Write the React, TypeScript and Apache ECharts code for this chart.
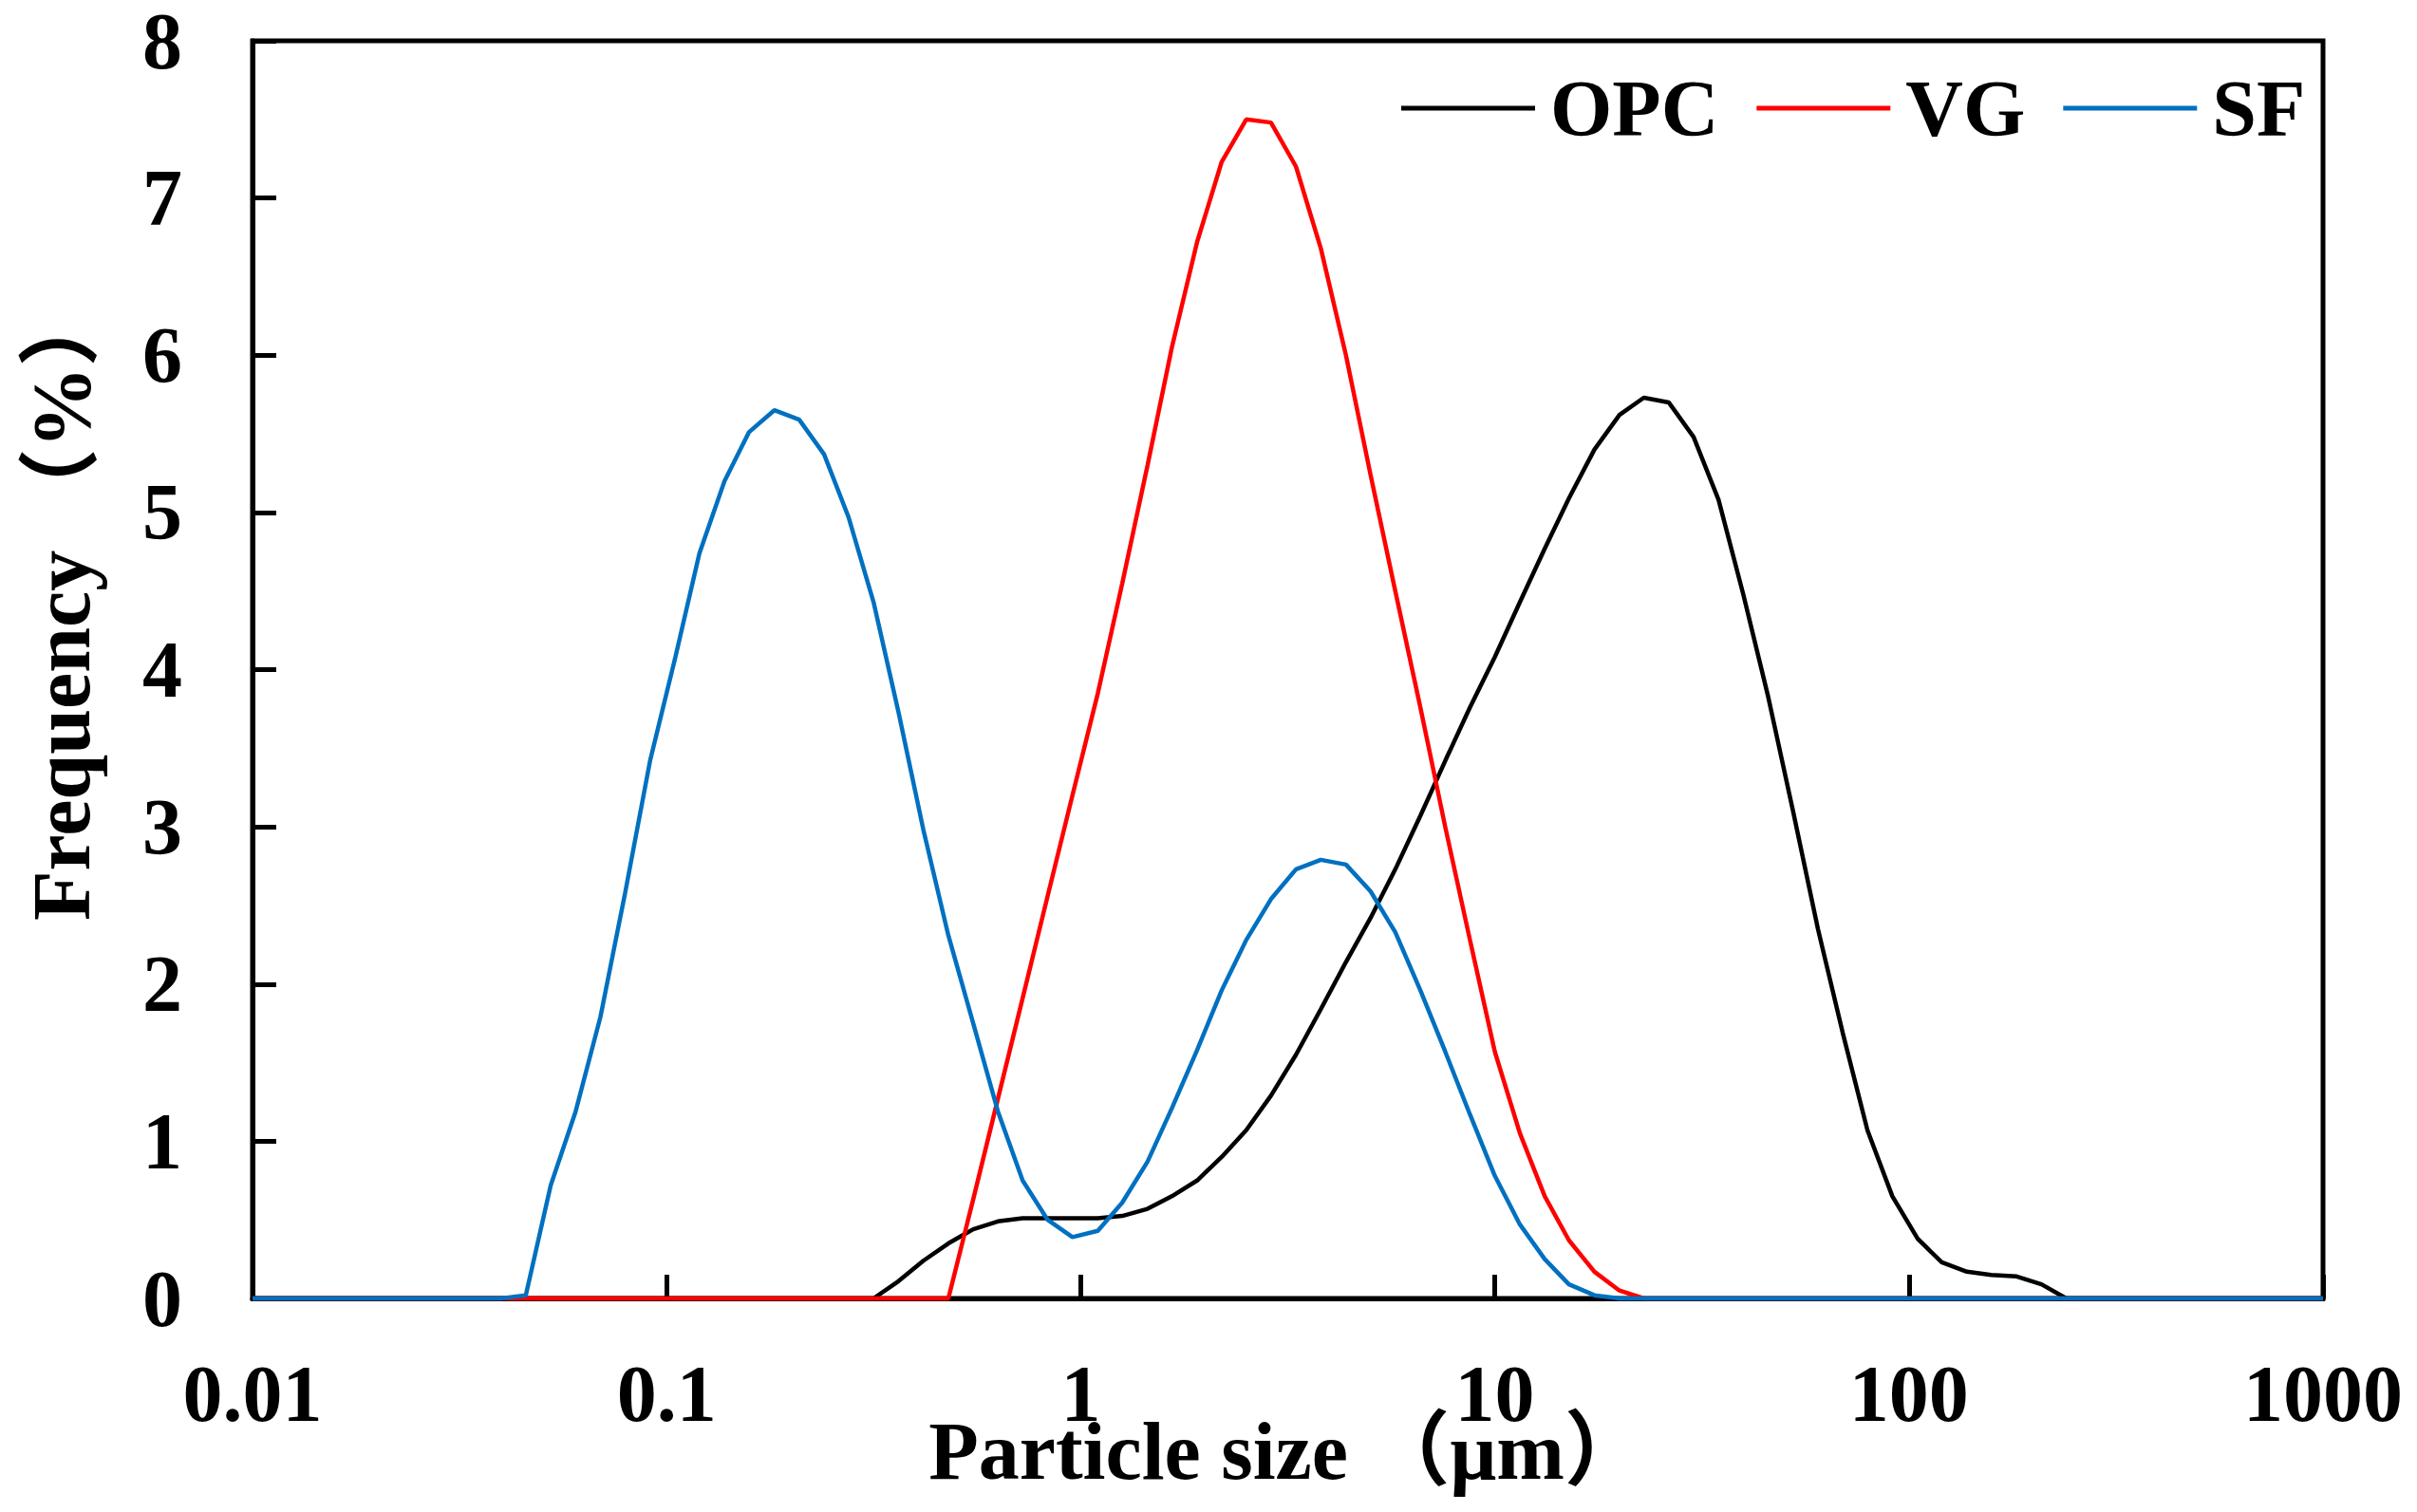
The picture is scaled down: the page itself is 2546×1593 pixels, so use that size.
import React, { useEffect, useRef } from "react";
import * as echarts from "echarts";

// Particle size classes (µm)
const sizes = [
  0.01, 0.0115, 0.0132, 0.0151, 0.0174, 0.02, 0.0229, 0.0263, 0.0302, 0.0347,
  0.0398, 0.0457, 0.0525, 0.0603, 0.0692, 0.0794, 0.0912, 0.105, 0.12, 0.138,
  0.158, 0.182, 0.209, 0.24, 0.275, 0.316, 0.363, 0.417, 0.479, 0.55,
  0.631, 0.724, 0.832, 0.955, 1.1, 1.26, 1.45, 1.66, 1.91, 2.19,
  2.51, 2.88, 3.31, 3.8, 4.37, 5.01, 5.75, 6.61, 7.59, 8.71,
  10, 11.5, 13.2, 15.1, 17.4, 20, 22.9, 26.3, 30.2, 34.7,
  39.8, 45.7, 52.5, 60.3, 69.2, 79.4, 91.2, 105, 120, 138,
  158, 182, 209, 240, 275, 316, 363, 417, 479, 550,
  631, 724, 832, 955, 1000,
];

const opc = [
  0, 0, 0, 0, 0, 0, 0, 0, 0, 0,
  0, 0, 0, 0, 0, 0, 0, 0, 0, 0,
  0, 0, 0, 0, 0, 0, 0.11, 0.24, 0.35, 0.44,
  0.49, 0.51, 0.51, 0.51, 0.51, 0.525, 0.57, 0.65, 0.75, 0.9,
  1.07, 1.29, 1.55, 1.84, 2.14, 2.42, 2.73, 3.07, 3.42, 3.76,
  4.08, 4.43, 4.77, 5.09, 5.4, 5.62, 5.73, 5.7, 5.48, 5.08,
  4.48, 3.83, 3.1, 2.35, 1.69, 1.07, 0.65, 0.38, 0.23, 0.17,
  0.15, 0.14, 0.09, 0, 0, 0, 0, 0, 0, 0,
  0, 0, 0, 0, 0,
];

const vg = [
  0, 0, 0, 0, 0, 0, 0, 0, 0, 0,
  0, 0, 0, 0, 0, 0, 0, 0, 0, 0,
  0, 0, 0, 0, 0, 0, 0, 0, 0, 0.63,
  1.27, 1.91, 2.56, 3.2, 3.85, 4.55, 5.3, 6.05, 6.72, 7.23,
  7.5, 7.48, 7.2, 6.68, 6.0, 5.24, 4.5, 3.76, 3.0, 2.28,
  1.57, 1.05, 0.65, 0.37, 0.17, 0.05, 0, 0, 0, 0,
  0, 0, 0, 0, 0, 0, 0, 0, 0, 0,
  0, 0, 0, 0, 0, 0, 0, 0, 0, 0,
  0, 0, 0, 0, 0,
];

const sf = [
  0, 0, 0, 0, 0, 0, 0, 0, 0, 0,
  0, 0.02, 0.72, 1.19, 1.79, 2.58, 3.42, 4.08, 4.74, 5.2,
  5.51, 5.65, 5.59, 5.37, 4.97, 4.43, 3.73, 2.98, 2.31, 1.75,
  1.19, 0.75, 0.5, 0.39, 0.43, 0.61, 0.87, 1.21, 1.58, 1.96,
  2.28, 2.54, 2.73, 2.79, 2.76, 2.59, 2.33, 1.96, 1.57, 1.17,
  0.78, 0.47, 0.25, 0.09, 0.02, 0, 0, 0, 0, 0,
  0, 0, 0, 0, 0, 0, 0, 0, 0, 0,
  0, 0, 0, 0, 0, 0, 0, 0, 0, 0,
  0, 0, 0, 0, 0,
];

const seriesNames = ["OPC", "VG", "SF"];
const seriesColors = ["#000000", "#FF0000", "#0070C0"];
const xTickLabels = ["0.01", "0.1", "1", "10", "100", "1000"];
const xTitle = "Particle size （μm）";
const yTitle = "Frequency （%）";

const FONT = "'Liberation Serif', 'Times New Roman', 'Noto Sans CJK SC', serif";

export default function App() {
  const ref = useRef<HTMLDivElement>(null);

  useEffect(() => {
    document.body.style.margin = "0";
    document.body.style.overflow = "hidden";
    if (!ref.current) return;
    const chart = echarts.init(ref.current, undefined, { renderer: "svg" });
    const allValues = [opc, vg, sf];

    chart.setOption({
      animation: false,
      backgroundColor: "#ffffff",
      grid: {
        left: 266,
        right: 99,
        top: 43,
        bottom: 225,
        containLabel: false,
        show: true,
        borderColor: "#000",
        borderWidth: 5,
        backgroundColor: "transparent",
      },
      legend: {
        left: 1471,
        top: 67,
        orient: "horizontal",
        itemWidth: 141,
        itemHeight: 5,
        itemGap: 40,
        icon: "rect",
        data: seriesNames,
        textStyle: {
          fontFamily: FONT,
          fontWeight: "bold",
          fontSize: 84,
          color: "#000",
          lineHeight: 84,
          padding: [0, 0, 0, 11],
        },
      },
      xAxis: {
        type: "log",
        logBase: 10,
        min: 0.01,
        max: 1000,
        splitLine: { show: false },
        minorTick: { show: false },
        axisLine: { show: true, onZero: false, lineStyle: { color: "#000", width: 5 } },
        axisTick: { show: true, inside: true, length: 25, lineStyle: { color: "#000", width: 5 } },
        axisLabel: {
          show: true,
          margin: 58,
          fontFamily: FONT,
          fontWeight: "bold",
          fontSize: 84,
          color: "#000",
          formatter: (v: number) => {
            const i = Math.round(Math.log10(v)) + 2;
            return xTickLabels[i] ?? "";
          },
        },
      },
      yAxis: {
        type: "value",
        min: 0,
        max: 8,
        interval: 1,
        splitLine: { show: false },
        axisLine: { show: true, lineStyle: { color: "#000", width: 5 } },
        axisTick: { show: true, inside: true, length: 25, lineStyle: { color: "#000", width: 5 } },
        axisLabel: {
          show: true,
          margin: 74,
          fontFamily: FONT,
          fontWeight: "bold",
          fontSize: 84,
          color: "#000",
        },
      },
      graphic: [
        {
          type: "text",
          x: 1356,
          y: 1529,
          style: {
            text: xTitle,
            fontFamily: FONT,
            fontWeight: "bold",
            fontSize: 86,
            fill: "#000",
            align: "center",
            verticalAlign: "middle",
          },
        },
        {
          type: "text",
          x: 65,
          y: 970,
          rotation: Math.PI / 2,
          style: {
            text: yTitle,
            fontFamily: FONT,
            fontWeight: "bold",
            fontSize: 86,
            fill: "#000",
            align: "left",
            verticalAlign: "middle",
          },
        },
      ],
      series: seriesNames.map((name, si) => ({
        name,
        type: "line",
        symbol: "none",
        showSymbol: false,
        smooth: false,
        clip: false,
        z: 2 + si,
        color: seriesColors[si],
        lineStyle: { color: seriesColors[si], width: 4.5 },
        data: sizes.map((s, i) => [s, allValues[si][i]]),
      })),
    });

    return () => {
      chart.dispose();
    };
  }, []);

  return <div ref={ref} style={{ width: 2546, height: 1593 }} />;
}
